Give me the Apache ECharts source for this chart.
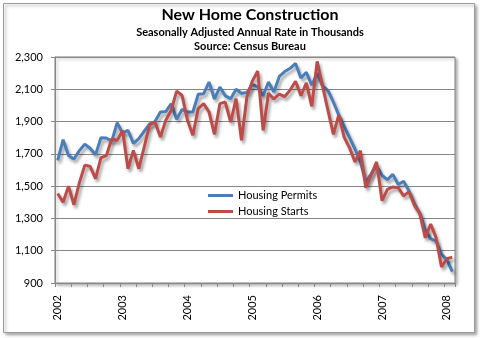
<!DOCTYPE html>
<html>
<head>
<meta charset="utf-8">
<script src="https://cdn.jsdelivr.net/npm/echarts@6/dist/echarts.min.js"></script>
<style>
html,body{margin:0;padding:0;background:#fff;}
#chart{width:480px;height:338px;}
</style>
</head>
<body>
<div id="chart"></div>
<script>
// ---- data ----
var years = ['2002','2003','2004','2005','2006','2007','2008'];
var monthCodes = ['01','02','03','04','05','06','07','08','09','10','11','12'];
var lastYearMonths = 2; // data ends Feb 2008

var permits2002 = [1660,1788,1690,1668,1720,1760,1735,1695,1800,1798,1778,1893];
var permits2003 = [1830,1845,1765,1795,1840,1885,1900,1959,1962,2011,1915,1975];
var permits2004 = [1959,1959,2069,2073,2145,2040,2114,2060,2042,2100,2075,2080];
var permits2005 = [2130,2115,2060,2145,2083,2180,2210,2230,2260,2170,2205,2125];
var permits2006 = [2200,2120,2093,2021,1940,1870,1800,1730,1650,1525,1577,1625];
var permits2007 = [1567,1540,1573,1510,1530,1470,1390,1330,1230,1175,1160,1078];
var permits2008 = [1045,970];

var starts2002 = [1455,1400,1500,1385,1520,1629,1623,1546,1676,1689,1794,1783];
var starts2003 = [1845,1608,1722,1608,1742,1880,1897,1804,1908,1970,2089,2063];
var starts2004 = [1908,1815,1980,2011,1959,1821,2011,2021,1897,2042,1784,2052];
var starts2005 = [2150,2213,1845,2075,2040,2070,2055,2095,2150,2060,2140,1994];
var starts2006 = [2273,2119,1969,1821,1942,1802,1737,1650,1720,1490,1570,1650];
var starts2007 = [1410,1480,1495,1490,1440,1465,1380,1330,1180,1265,1180,1000];
var starts2008 = [1050,1060];

var yTicks = [900,1100,1300,1500,1700,1900,2100,2300];

var titleText = 'New Home Construction';
var subtitleText = 'Seasonally Adjusted Annual Rate in Thousands';
var sourceText = 'Source: Census Bureau';

// ---- build ----
var categories = [];
years.forEach(function(y, i){
  var n = (i === years.length-1) ? lastYearMonths : 12;
  for (var k=0;k<n;k++) categories.push(y + '-' + monthCodes[k]);
});
var permits = [].concat(permits2002,permits2003,permits2004,permits2005,permits2006,permits2007,permits2008);
var starts = [].concat(starts2002,starts2003,starts2004,starts2005,starts2006,starts2007,starts2008);

var chart = echarts.init(document.getElementById('chart'), null, {renderer:'canvas'});
var font = 'Lato, "Open Sans", "DejaVu Sans", sans-serif';
var lineShadow = {shadowColor:'rgba(0,0,0,0.35)', shadowBlur:3, shadowOffsetX:2, shadowOffsetY:3};

chart.setOption({
  backgroundColor:'#fff',
  animation:false,
  graphic:[{
    type:'rect', z:-10, silent:true,
    shape:{x:3.5,y:3.5,width:471,height:329},
    style:{fill:'#fff', stroke:'#9a9a9a', lineWidth:1, shadowColor:'rgba(0,0,0,0.35)', shadowBlur:3, shadowOffsetX:2, shadowOffsetY:2}
  },{
    type:'text', x:250, y:7, silent:true,
    style:{text:titleText, font:'bold 16px '+font, fill:'#000', textAlign:'center', textVerticalAlign:'top'}
  },{
    type:'text', x:250, y:27, silent:true,
    style:{text:subtitleText, font:'bold 11px '+font, fill:'#000', textAlign:'center', textVerticalAlign:'top'}
  },{
    type:'text', x:250, y:41, silent:true,
    style:{text:sourceText, font:'bold 11px '+font, fill:'#000', textAlign:'center', textVerticalAlign:'top'}
  }],
  legend:{
    orient:'vertical', left:203, top:184, itemGap:3, itemWidth:25, itemHeight:3, icon:'rect',
    textStyle:{fontFamily:font, fontSize:11, color:'#000', lineHeight:13},
    data:['Housing Permits','Housing Starts']
  },
  grid:{left:55, right:25, top:57, bottom:55, show:true, borderColor:'#868686', borderWidth:1,
        backgroundColor:'#fff', shadowColor:'rgba(0,0,0,0.3)', shadowBlur:3, shadowOffsetX:2, shadowOffsetY:2},
  xAxis:{
    type:'category', data:categories, boundaryGap:true,
    axisLine:{lineStyle:{color:'#868686'}},
    axisTick:{show:true, interval:2, length:4, lineStyle:{color:'#868686'}},
    axisLabel:{interval:11, rotate:90, margin:12, fontFamily:font, fontSize:11, color:'#000',
      formatter:function(v){return v.slice(0,4);}}
  },
  yAxis:{
    type:'value', min:yTicks[0], max:yTicks[yTicks.length-1], interval:200,
    axisLine:{show:true, lineStyle:{color:'#868686'}},
    axisTick:{show:true, length:4, lineStyle:{color:'#868686'}},
    splitLine:{lineStyle:{color:'#868686', width:1}},
    axisLabel:{margin:12, fontFamily:font, fontSize:11, color:'#000',
      formatter:function(v){return v.toLocaleString('en-US');}}
  },
  series:[
    {name:'Housing Permits', type:'line', data:permits, symbol:'none', showSymbol:false,
     itemStyle:{color:'#4A7EBB'}, lineStyle:Object.assign({width:3, color:'#4A7EBB'}, lineShadow)},
    {name:'Housing Starts', type:'line', data:starts, symbol:'none', showSymbol:false,
     itemStyle:{color:'#BE4B48'}, lineStyle:Object.assign({width:3, color:'#BE4B48'}, lineShadow)}
  ]
});
</script>
</body>
</html>
